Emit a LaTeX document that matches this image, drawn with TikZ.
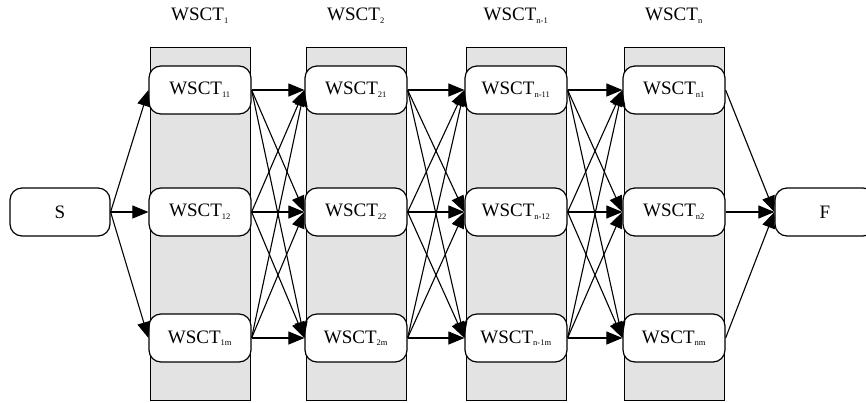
\documentclass[tikz,border=0pt]{standalone}
\usepackage{fontspec}
\setmainfont{Liberation Serif}
\usetikzlibrary{arrows.meta}

\newcommand{\wsct}[1]{WSCT\textsubscript{\fontsize{8.5}{8.5}\selectfont #1}}

\begin{document}
\begin{tikzpicture}[x=1pt, y=-1pt,
  stage/.style={rectangle, draw, fill=gray!22, line width=0.8pt,
                minimum width=100pt, minimum height=353pt},
  svc/.style={rectangle, rounded corners=12pt, draw, fill=white, line width=1.2pt,
              minimum width=102pt, minimum height=48pt, font=\fontsize{19}{19}\selectfont},
  title/.style={font=\fontsize{19}{19}\selectfont},
  flow/.style={-{Triangle[length=16pt, width=13pt]}, line width=1.1pt}
]
\clip (0,0) rectangle (866,402);

% stages with their services
\foreach \c/\x/\id in {1/200/1, 2/356/2, 3/516/n-1, 4/674/n} {
  \node[stage] (box\c) at (\x,223.5) {};
  \node[title] (title\c) at (\x,16) {\wsct{\id}};
  \foreach \r/\y/\s in {1/90/1, 2/212/2, 3/338/m}
    \node[svc] (w\c\r) at (\x,\y) {\wsct{\id\s}};
}

\node[svc, minimum width=100pt] (s) at (60,212) {S};
\node[svc, minimum width=100pt] (f) at (825,212) {F};

% connectors
\foreach \r in {1,2,3}
  \draw[flow] (s.east) -- (w1\r.west);
\foreach \c [evaluate=\c as \n using int(\c+1)] in {1,2,3}
  \foreach \r in {1,2,3}
    \foreach \t in {1,2,3}
      \draw[flow] (w\c\r.east) -- (w\n\t.west);
\foreach \r in {1,2,3}
  \draw[flow] (w4\r.east) -- (f.west);
\end{tikzpicture}
\end{document}
